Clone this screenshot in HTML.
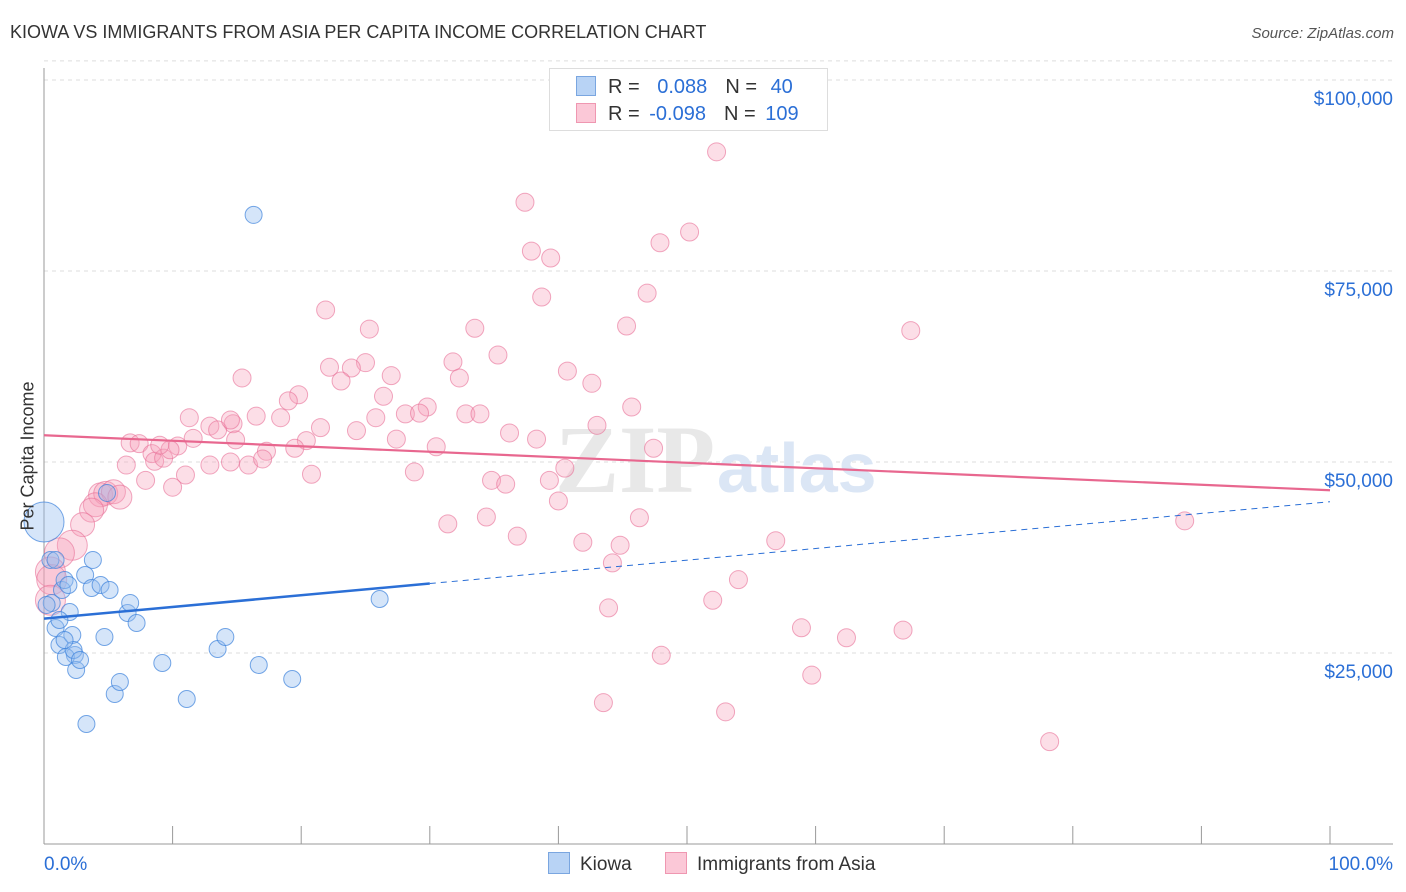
<!DOCTYPE html>
<html><head><meta charset="utf-8"><style>
body{margin:0;background:#fff;font-family:"Liberation Sans",sans-serif;}
#wrap{position:relative;width:1406px;height:892px;overflow:hidden;}
.t{position:absolute;white-space:nowrap;}
</style></head><body>
<div id="wrap">
<div class="t" style="left:10px;top:22px;font-size:18px;color:#333;">KIOWA VS IMMIGRANTS FROM ASIA PER CAPITA INCOME CORRELATION CHART</div>
<div class="t" style="right:12px;top:25px;font-size:15px;color:#555;font-style:italic;">Source: ZipAtlas.com</div>
<svg id="svg" width="1406" height="892" style="position:absolute;left:0;top:0"></svg>
<div class="t" style="left:28px;top:456px;font-size:18px;color:#333;transform:translate(-50%,-50%) rotate(-90deg);">Per Capita Income</div>
<div style="position:absolute;left:549px;top:68px;width:277px;height:61px;border:1px solid #ddd;background:#fff;font-size:20px;">
 <div style="position:absolute;left:26px;top:7px;"><span style="display:inline-block;width:18px;height:18px;background:#b8d3f5;border:1px solid #7aa6e0;vertical-align:-3px"></span><span style="color:#333;margin-left:12px">R = </span><span style="color:#2b6fd6;margin-left:12px">0.088</span><span style="color:#333;margin-left:18px">N = </span><span style="color:#2b6fd6;margin-left:8px">40</span></div>
 <div style="position:absolute;left:26px;top:34px;"><span style="display:inline-block;width:18px;height:18px;background:#fbc8d7;border:1px solid #ef97b1;vertical-align:-3px"></span><span style="color:#333;margin-left:12px">R = </span><span style="color:#2b6fd6;margin-left:4px">-0.098</span><span style="color:#333;margin-left:18px">N = </span><span style="color:#2b6fd6;margin-left:4px">109</span></div>
</div>
<div style="position:absolute;left:548px;top:852px;font-size:19px;color:#333;">
 <span><span style="display:inline-block;width:20px;height:20px;background:#b8d3f5;border:1px solid #7aa6e0;vertical-align:-4px"></span><span style="margin-left:10px">Kiowa</span></span>
 <span style="margin-left:28px"><span style="display:inline-block;width:20px;height:20px;background:#fbc8d7;border:1px solid #ef97b1;vertical-align:-4px"></span><span style="margin-left:10px">Immigrants from Asia</span></span>
</div>
</div>
<script>
const yTicks=[25000,50000,75000,100000];
const yTickLabels=["$25,000","$50,000","$75,000","$100,000"];
const xTickLabels=["0.0%","100.0%"];
const kiowaX=[0,0.5,0.6,0.9,1.2,1.4,1.6,1.9,2.0,2.2,2.4,1.7,2.3,2.5,2.8,3.3,3.2,3.7,3.8,4.4,4.7,5.1,5.5,5.9,6.5,6.7,7.2,9.2,11.1,13.5,14.1,16.3,16.7,19.3,26.1,4.9,1.2,0.2,1.6,0.9];
const kiowaY=[42150,37180,31550,28270,26050,33250,34560,33900,30370,27360,24740,24480,25390,22780,24090,15710,35210,33510,37180,33900,27100,33250,19640,21210,30240,31550,28930,23690,18980,25520,27100,82340,23430,21600,32070,45950,29320,31290,26700,37180];
const asiaX=[52.3,37.4,50.2,47.9,37.9,39.4,38.7,46.9,21.9,67.4,45.3,33.5,25.3,35.3,22.2,31.8,25.0,23.9,32.3,15.4,40.7,27.0,23.1,42.6,19.8,26.4,19.0,28.1,29.8,25.8,32.8,33.9,45.7,11.3,16.5,18.4,14.7,12.9,21.5,13.5,24.3,43.0,36.2,38.3,27.4,14.9,11.6,10.4,6.7,7.4,8.4,20.4,19.5,30.5,17.3,8.6,6.4,9.3,11.0,12.9,14.5,15.9,17.0,20.8,7.9,10.0,28.8,34.8,35.9,40.5,47.4,4.4,4.8,5.4,5.9,4.0,3.7,3.0,40.0,34.4,31.4,46.3,36.8,41.9,44.8,56.9,2.2,1.2,0.5,0.6,44.2,54.0,52.0,43.9,48.0,58.9,62.4,66.8,59.7,43.5,53.0,78.2,88.7,9.8,0.5,14.5,39.3,9.0,29.2];
const asiaY=[90.6,84.0,80.1,78.7,77.6,76.7,71.6,72.1,69.9,67.2,67.8,67.5,67.4,64.0,62.4,63.1,63.0,62.3,61.0,61.0,61.9,61.3,60.6,60.3,58.8,58.6,58.0,56.3,57.2,55.8,56.3,56.3,57.2,55.8,56.0,55.8,55.0,54.7,54.5,54.2,54.1,54.8,53.8,53.0,53.0,52.9,53.1,52.1,52.5,52.4,51.1,52.8,51.8,52.0,51.4,50.1,49.6,50.5,48.3,49.6,50.0,49.6,50.4,48.4,47.6,46.7,48.7,47.6,47.1,49.2,51.8,45.7,45.9,46.1,45.4,44.4,43.7,41.8,44.9,42.8,41.9,42.7,40.3,39.5,39.1,39.7,39.1,38.1,35.6,34.6,36.8,34.6,31.9,30.9,24.7,28.3,27.0,28.0,22.1,18.5,17.3,13.4,42.3,51.6,31.9,55.5,47.6,52.2,56.4].map(v=>v*1000);
const kiowaTrend=[29500,44800];
const asiaTrend=[53500,46300];
const X0=44,X1=1330,Y0=844,YK=191/25000;
const xs=p=>X0+(X1-X0)*p/100, ys=v=>Y0-v*YK;
const svg=document.getElementById('svg'),NS='http://www.w3.org/2000/svg';
function mk(tag,at,name){const e=document.createElementNS(NS,tag);for(const k in at)e.setAttribute(k,at[k]);


svg.appendChild(e);return e;}
yTicks.forEach((v,i)=>{mk('line',{x1:X0,x2:1393,y1:ys(v),y2:ys(v),stroke:'#ddd','stroke-dasharray':'4,4'},'gridline');
const t=mk('text',{x:1393,y:ys(v)+25,'text-anchor':'end','font-size':19,fill:'#2b6fd6','font-family':'Liberation Sans'},'y-tick-label');t.textContent=yTickLabels[i];});
mk('line',{x1:X0,x2:1393,y1:ys(102500),y2:ys(102500),stroke:'#ddd','stroke-dasharray':'4,4'},'gridline');
mk('line',{x1:X0,x2:X0,y1:68,y2:Y0,stroke:'#999'},'y-axis');
mk('line',{x1:X0,x2:1393,y1:Y0,y2:Y0,stroke:'#999'},'x-axis');
for(let i=0;i<=10;i++)mk('line',{x1:xs(i*10),x2:xs(i*10),y1:826,y2:Y0,stroke:'#999'},'x-tick');
let t=mk('text',{x:44,y:870,'font-size':19,fill:'#2b6fd6','font-family':'Liberation Sans'},'x-tick-label');t.textContent=xTickLabels[0];
t=mk('text',{x:1393,y:870,'text-anchor':'end','font-size':19,fill:'#2b6fd6','font-family':'Liberation Sans'},'x-tick-label');t.textContent=xTickLabels[1];
t=mk('text',{x:555,y:492,'font-size':96,fill:'#e8e8e8','font-family':'Liberation Serif','font-weight':'bold'},'watermark-zip');t.textContent='ZIP';
t=mk('text',{x:717,y:492,'font-size':70,fill:'#dbe6f5','font-family':'Liberation Sans','font-weight':'bold'},'watermark-atlas');t.textContent='atlas';
const big={0:20};
asiaX.forEach((x,i)=>{let r=9;if(x<6)r=x<3?15:12;
mk('circle',{cx:xs(x),cy:ys(asiaY[i]),r:r,fill:'rgba(246,160,186,0.35)',stroke:'rgba(232,110,150,0.6)','stroke-width':1},'asia-point');});
kiowaX.forEach((x,i)=>{const r=big[i]||8.5;
mk('circle',{cx:xs(x),cy:ys(kiowaY[i]),r:r,fill:'rgba(150,190,240,0.4)',stroke:'rgba(60,130,220,0.7)','stroke-width':1},'kiowa-point');});
mk('line',{x1:xs(0),y1:ys(asiaTrend[0]),x2:xs(100),y2:ys(asiaTrend[1]),stroke:'#e8678f','stroke-width':2.2},'asia-trendline');
const kAt=p=>kiowaTrend[0]+(kiowaTrend[1]-kiowaTrend[0])*p/100;
mk('line',{x1:xs(0),y1:ys(kAt(0)),x2:xs(30),y2:ys(kAt(30)),stroke:'#2b6fd6','stroke-width':2.5},'kiowa-trendline');
mk('line',{x1:xs(30),y1:ys(kAt(30)),x2:xs(100),y2:ys(kAt(100)),stroke:'#2b6fd6','stroke-width':1,'stroke-dasharray':'6,5'},'kiowa-trendline-extension');
</script>
</body></html>
